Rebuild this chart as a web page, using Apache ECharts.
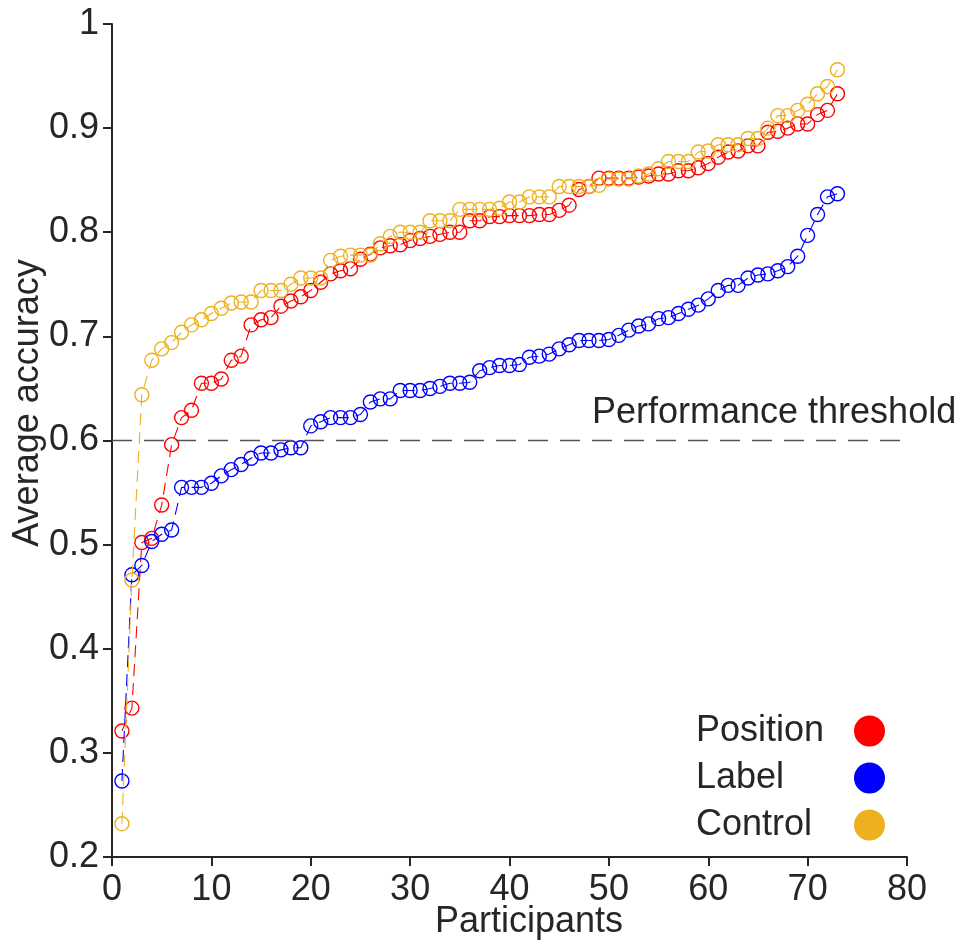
<!DOCTYPE html>
<html>
<head>
<meta charset="utf-8">
<script src="https://cdn.jsdelivr.net/npm/echarts@6/dist/echarts.min.js"></script>
<style>html,body{margin:0;padding:0;background:#fff}#c{width:969px;height:947px}</style>
</head>
<body>
<div id="c"></div>
<script>
const seriesNames = ['Position', 'Label', 'Control'];
const seriesColors = ['#FF0000', '#0000FF', '#EDB120'];
const xTicks = [0, 10, 20, 30, 40, 50, 60, 70, 80];
const yTicks = [0.2, 0.3, 0.4, 0.5, 0.6, 0.7, 0.8, 0.9, 1];
const threshold = 0.6;

const position = [0.321,0.343,0.502,0.506,0.538,0.596,0.622,0.629,0.655,0.655,
0.659,0.677,0.681,0.711,0.716,0.718,0.729,0.734,0.738,0.744,
0.752,0.760,0.763,0.765,0.774,0.779,0.785,0.787,0.788,0.792,
0.794,0.796,0.798,0.800,0.800,0.811,0.811,0.815,0.815,0.816,
0.816,0.816,0.817,0.817,0.821,0.826,0.841,0.844,0.852,0.852,
0.852,0.852,0.853,0.854,0.856,0.856,0.859,0.859,0.862,0.866,
0.872,0.877,0.878,0.883,0.883,0.896,0.897,0.900,0.904,0.904,
0.913,0.917,0.933];

const label = [0.273,0.471,0.480,0.503,0.510,0.514,0.555,0.555,0.555,0.559,
0.566,0.572,0.577,0.583,0.588,0.588,0.591,0.593,0.593,0.614,
0.618,0.622,0.622,0.622,0.625,0.637,0.640,0.640,0.648,0.648,
0.648,0.650,0.652,0.655,0.655,0.656,0.667,0.670,0.672,0.672,
0.673,0.680,0.681,0.683,0.688,0.692,0.696,0.696,0.696,0.697,
0.701,0.706,0.710,0.712,0.717,0.718,0.722,0.726,0.730,0.736,
0.744,0.749,0.749,0.756,0.759,0.760,0.763,0.767,0.777,0.797,
0.817,0.834,0.837];

const control = [0.232,0.466,0.644,0.677,0.688,0.694,0.704,0.711,0.716,0.722,
0.727,0.732,0.733,0.733,0.744,0.744,0.744,0.750,0.756,0.756,
0.756,0.773,0.777,0.778,0.778,0.778,0.789,0.796,0.800,0.800,
0.800,0.811,0.811,0.811,0.822,0.822,0.822,0.822,0.823,0.829,
0.829,0.834,0.834,0.834,0.844,0.844,0.844,0.844,0.845,0.851,
0.851,0.851,0.854,0.856,0.861,0.868,0.868,0.868,0.877,0.878,
0.884,0.884,0.884,0.890,0.890,0.900,0.912,0.912,0.917,0.923,
0.933,0.940,0.956];

const allData = [position, label, control];
const FONT = '"Liberation Sans", Arial, Helvetica, sans-serif';
const TXT = '#262626';

const chart = echarts.init(document.getElementById('c'), null, {renderer: 'canvas'});

const series = allData.map((arr, k) => {
  const s = {
    name: seriesNames[k],
    type: 'line',
    data: arr.map((v, i) => [i + 1, v]),
    symbol: 'circle',
    symbolSize: 14,
    showSymbol: true,
    z: 2 + k,
    itemStyle: {color: 'rgba(0,0,0,0)', borderColor: seriesColors[k], borderWidth: 1.4},
    lineStyle: {color: seriesColors[k], width: 1.1, type: [12, 7]},
    emphasis: {disabled: true},
    animation: false
  };
  if (k === 0) {
    s.markLine = {
      silent: true,
      symbol: ['none', 'none'],
      label: {show: false},
      lineStyle: {color: '#555555', width: 1.3, type: [20, 12]},
      data: [{yAxis: threshold}],
      animation: false
    };
  }
  return s;
});

const option = {
  backgroundColor: '#fff',
  animation: false,
  grid: {left: 112, right: 62, top: 24, bottom: 90, containLabel: false},
  xAxis: {
    type: 'value', min: xTicks[0], max: xTicks[xTicks.length - 1], interval: 10,
    axisLine: {show: true, onZero: false, lineStyle: {color: TXT, width: 2}},
    axisTick: {show: true, length: 9, inside: false, lineStyle: {color: TXT, width: 2}},
    axisLabel: {fontSize: 36, color: TXT, fontFamily: FONT, margin: 15},
    splitLine: {show: false}
  },
  yAxis: {
    type: 'value', min: yTicks[0], max: yTicks[yTicks.length - 1], interval: 0.1,
    axisLine: {show: true, onZero: false, lineStyle: {color: TXT, width: 2}},
    axisTick: {show: true, length: 9, inside: false, lineStyle: {color: TXT, width: 2}},
    axisLabel: {fontSize: 36, color: TXT, fontFamily: FONT, margin: 13,
      formatter: v => String(Math.round(v * 10) / 10)},
    splitLine: {show: false}
  },
  legend: {
    orient: 'vertical', right: 79, top: 708, align: 'right',
    itemWidth: 31, itemHeight: 31, itemGap: 11, icon: 'circle',
    data: seriesNames.map((n, k) => ({name: n, icon: 'circle', itemStyle: {color: seriesColors[k], borderWidth: 0}})),
    formatter: n => '{a|' + n + '}',
    textStyle: {fontSize: 36, color: TXT, fontFamily: FONT,
      rich: {a: {width: 153, align: 'left', fontSize: 36, color: TXT, fontFamily: FONT}}},
    selectedMode: false
  },
  graphic: [
    {type: 'text', x: 28, y: 403, rotation: Math.PI / 2,
     style: {text: 'Average accuracy', fontSize: 36, fill: TXT, fontFamily: FONT, align: 'center', verticalAlign: 'middle'}},
    {type: 'text', x: 529, y: 922,
     style: {text: 'Participants', fontSize: 36, fill: TXT, fontFamily: FONT, align: 'center', verticalAlign: 'middle'}},
    {type: 'text', x: 592, y: 413,
     style: {text: 'Performance threshold', fontSize: 36, fill: TXT, fontFamily: FONT, align: 'left', verticalAlign: 'middle'}}
  ],
  series: series
};
chart.setOption(option);
</script>
</body>
</html>
